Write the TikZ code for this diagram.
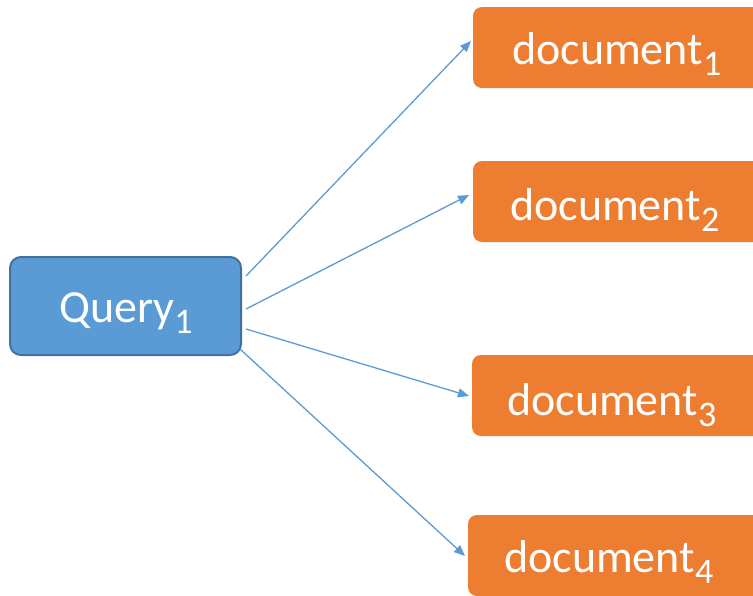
\documentclass[tikz,border=0pt]{standalone}
\usepackage{fontspec}
\setmainfont{Carlito}
\usetikzlibrary{arrows.meta}
\definecolor{qblue}{HTML}{5B9BD5}
\definecolor{qborder}{HTML}{41719C}
\definecolor{dorange}{HTML}{ED7D31}
\newcommand\mysub[1]{\raisebox{-11pt}{\fontsize{36}{38}\selectfont #1}}
\begin{document}
\begin{tikzpicture}[x=1pt,y=-1pt,
  qbox/.style={draw=qborder,line width=2pt,fill=qblue,rounded corners=11pt},
  dbox/.style={fill=dorange,rounded corners=9pt},
  lbl/.style={text=white,font=\fontsize{46}{50}\selectfont,inner sep=0pt,anchor=base west},
  conn/.style={draw=qblue,line width=1.3pt,-{Triangle[length=11pt,width=9pt]}}]
\useasboundingbox (0,0) rectangle (753,595);
\draw[qbox] (10,257) rectangle (241,355);
\node[lbl] (q) at (59,322) {Query\mysub{1}};
\fill[dbox] (473,7) rectangle (762,88);
\fill[dbox] (473,161) rectangle (762,242);
\fill[dbox] (472,355) rectangle (762,436);
\fill[dbox] (468,515) rectangle (762,596);
\node[lbl] (d1) at (512,64) {document\mysub{1}};
\node[lbl] (d2) at (510,220) {document\mysub{2}};
\node[lbl] (d3) at (507,415) {document\mysub{3}};
\node[lbl] (d4) at (504,572) {document\mysub{4}};
\coordinate (s1) at (246,276); \coordinate (e1) at (471,41);
\coordinate (s2) at (246,309); \coordinate (e2) at (469,195);
\coordinate (s3) at (246,329); \coordinate (e3) at (469,396);
\coordinate (s4) at (240,349); \coordinate (e4) at (465,556);
\draw[conn] (s1) -- (e1);
\draw[conn] (s2) -- (e2);
\draw[conn] (s3) -- (e3);
\draw[conn] (s4) -- (e4);
\end{tikzpicture}
\end{document}
